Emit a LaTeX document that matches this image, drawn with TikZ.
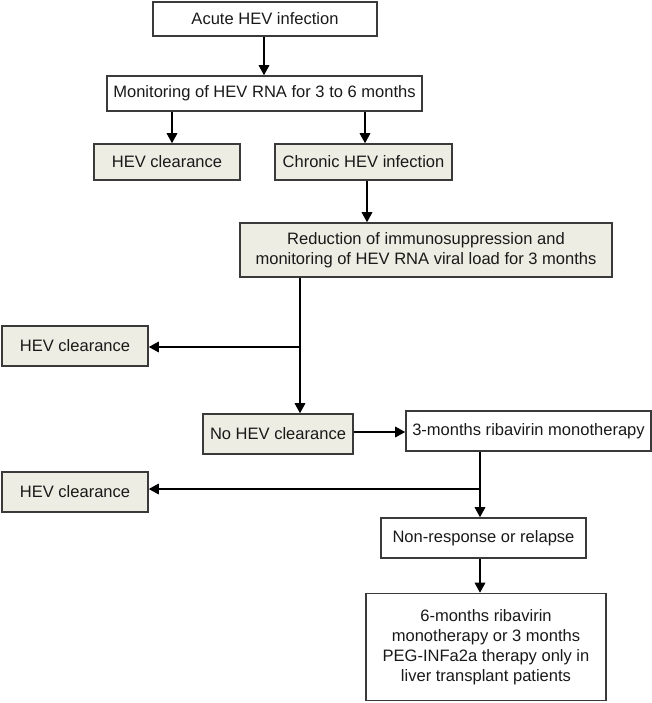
\documentclass[tikz,border=0pt]{standalone}
\usepackage{fontspec}
\setmainfont{Liberation Sans}
\usetikzlibrary{arrows.meta}
\definecolor{boxfill}{HTML}{EEEDE3}
\definecolor{boxline}{HTML}{3A3A3A}
\begin{document}
\begin{tikzpicture}[x=0.75pt,y=-0.75pt,
  flowbox/.style={draw=boxline,line width=1.2pt,inner sep=0pt,align=center,
    font=\fontsize{12.4pt}{15pt}\selectfont,text=black!90},
  filledbox/.style={flowbox,fill=boxfill},
  conn/.style={draw=black,line width=0.9pt,-{Triangle[width=8pt,length=7.5pt]}}]
\useasboundingbox (0,0) rectangle (652,703);
\node[flowbox,minimum width=224*0.75pt,minimum height=34*0.75pt] (a) at (265,19) {Acute HEV infection};
\node[flowbox,minimum width=315*0.75pt,minimum height=35*0.75pt] (b) at (264.5,93.5) {Monitoring of HEV RNA for 3 to 6 months};
\node[filledbox,minimum width=146*0.75pt,minimum height=36*0.75pt] (c) at (167,162) {HEV clearance};
\node[filledbox,minimum width=177*0.75pt,minimum height=36*0.75pt] (d) at (363.5,162) {Chronic HEV infection};
\node[filledbox,minimum width=372*0.75pt,minimum height=54*0.75pt] (e) at (426,250) {Reduction of immunosuppression and\\monitoring of HEV RNA viral load for 3 months};
\node[filledbox,minimum width=146*0.75pt,minimum height=40*0.75pt] (f) at (75,346) {HEV clearance};
\node[filledbox,minimum width=150*0.75pt,minimum height=40*0.75pt] (g) at (278,434) {No HEV clearance};
\node[flowbox,minimum width=245*0.75pt,minimum height=40*0.75pt] (h) at (528.5,431) {3-months ribavirin monotherapy};
\node[filledbox,minimum width=146*0.75pt,minimum height=40*0.75pt] (i) at (75,492) {HEV clearance};
\node[flowbox,minimum width=205*0.75pt,minimum height=40*0.75pt] (j) at (483.5,538) {Non-response or relapse};
\node[flowbox,minimum width=240*0.75pt,minimum height=107*0.75pt] (k) at (486,647) {6-months ribavirin\\monotherapy or 3 months\\PEG-INFa2a therapy only in\\liver transplant patients};
\coordinate (b1) at (300,347);
\coordinate (b2) at (480,489);
\draw[conn] (a.south -| 264,0) -- (264,0 |- b.north);
\draw[conn] (b.south -| c) ++(5,0) coordinate (bc) -- (bc |- c.north);
\draw[conn] (b.south -| 365,0) -- (365,0 |- d.north);
\draw[conn] (d.south -| 367,0) -- (367,0 |- e.north);
\draw[conn] (e.south -| b1) -- (b1 |- g.north);
\draw[conn] (b1) -- (f.east |- b1);
\draw[conn] (g.east |- 0,432) -- (h.west |- 0,432);
\draw[conn] (h.south -| b2) -- (b2 |- j.north);
\draw[conn] (b2) -- (i.east |- b2);
\draw[conn] (j.south -| b2) -- (b2 |- k.north);
\end{tikzpicture}
\end{document}
